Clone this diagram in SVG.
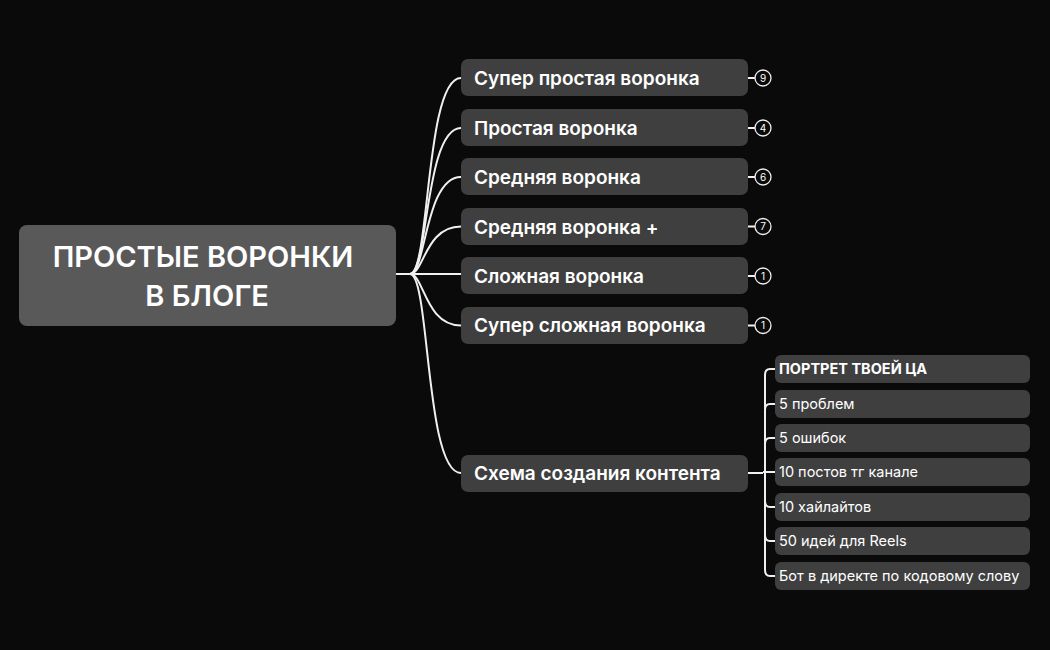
<svg xmlns="http://www.w3.org/2000/svg" width="1050" height="650" viewBox="0 0 1050 650">
<style>
.b{fill:#3f3f3f}
.t{font-family:Inter,"Noto Sans",sans-serif;fill:#fff}
.m{font-size:19px;font-weight:600}
.s{font-size:14.5px}
.c{fill:none;stroke:#f0f0f0;stroke-width:2}
.bd{fill:#0a0a0a;stroke:#f0f0f0;stroke-width:1.3}
.n{font-family:Inter,sans-serif;font-size:10px;fill:#fff;text-anchor:middle}
</style>
<rect width="1050" height="650" fill="#0a0a0a"/>
<g id="connectors">
<path class="c" d="M396 274H410"/>
<path class="c" d="M410 274C430 274 425 78 461 78"/>
<path class="c" d="M410 274C428 274 425 128 461 128"/>
<path class="c" d="M410 274C426 274 425 177 461 177"/>
<path class="c" d="M410 274C424 274 425 226.5 461 226.5"/>
<path class="c" d="M410 274H461"/>
<path class="c" d="M410 274C424 274 425 325.5 461 325.5"/>
<path class="c" d="M410 274C430 274 425 473 461 473"/>
<path class="c" d="M748 473H763"/>
<path class="c" d="M775 369H770Q765 369 765 375V570Q765 576 770 576H775"/>
<path class="c" d="M765 410Q765 404 770 404H775M765 444Q765 438 770 438H775M763 472H775M765 501Q765 507 770 507H775M765 535Q765 541 770 541H775"/>
<path class="c" d="M748 78H755M748 128H755M748 177H755M748 226.5H755M748 276H755M748 325.5H755" stroke-width="1.3"/>
</g>
<g id="root"><rect x="19" y="225" width="377" height="101" rx="8" fill="#595959"/>
<text class="t" x="203" y="267" font-size="29" font-weight="600" text-anchor="middle">ПРОСТЫЕ ВОРОНКИ</text>
<text class="t" x="207" y="306" font-size="29" font-weight="600" text-anchor="middle">В БЛОГЕ</text></g>
<g id="n1"><rect class="b" x="461" y="59" width="287" height="37" rx="7"/><text class="t m" x="474" y="85">Супер простая воронка</text><circle class="bd" cx="763" cy="78" r="8"/><text class="n" x="763" y="81.5">9</text></g>
<g id="n2"><rect class="b" x="461" y="109" width="287" height="37" rx="7"/><text class="t m" x="474" y="135">Простая воронка</text><circle class="bd" cx="763" cy="128" r="8"/><text class="n" x="763" y="131.5">4</text></g>
<g id="n3"><rect class="b" x="461" y="158" width="287" height="37" rx="7"/><text class="t m" x="474" y="184">Средняя воронка</text><circle class="bd" cx="763" cy="177" r="8"/><text class="n" x="763" y="180.5">6</text></g>
<g id="n4"><rect class="b" x="461" y="208" width="287" height="37" rx="7"/><text class="t m" x="474" y="234">Средняя воронка +</text><circle class="bd" cx="763" cy="226.5" r="8"/><text class="n" x="763" y="230">7</text></g>
<g id="n5"><rect class="b" x="461" y="257" width="287" height="37" rx="7"/><text class="t m" x="474" y="283">Сложная воронка</text><circle class="bd" cx="763" cy="276" r="8"/><text class="n" x="763" y="279.5">1</text></g>
<g id="n6"><rect class="b" x="461" y="307" width="287" height="37" rx="7"/><text class="t m" x="474" y="332">Супер сложная воронка</text><circle class="bd" cx="763" cy="325.5" r="8"/><text class="n" x="763" y="329">1</text></g>
<g id="n7"><rect class="b" x="461" y="455" width="287" height="37" rx="7"/><text class="t m" x="474" y="480">Схема создания контента</text></g>
<g id="s1"><rect class="b" x="775" y="355" width="255" height="28" rx="6"/><text class="t s" x="779" y="374" font-weight="700">ПОРТРЕТ ТВОЕЙ ЦА</text></g>
<g id="s2"><rect class="b" x="775" y="390" width="255" height="28" rx="6"/><text class="t s" x="779" y="409">5 проблем</text></g>
<g id="s3"><rect class="b" x="775" y="424" width="255" height="28" rx="6"/><text class="t s" x="779" y="443">5 ошибок</text></g>
<g id="s4"><rect class="b" x="775" y="458" width="255" height="28" rx="6"/><text class="t s" x="779" y="477">10 постов тг канале</text></g>
<g id="s5"><rect class="b" x="775" y="493" width="255" height="28" rx="6"/><text class="t s" x="779" y="512">10 хайлайтов</text></g>
<g id="s6"><rect class="b" x="775" y="527" width="255" height="28" rx="6"/><text class="t s" x="779" y="546">50 идей для Reels</text></g>
<g id="s7"><rect class="b" x="775" y="562" width="255" height="28" rx="6"/><text class="t s" x="779" y="581">Бот в директе по кодовому слову</text></g>
</svg>
